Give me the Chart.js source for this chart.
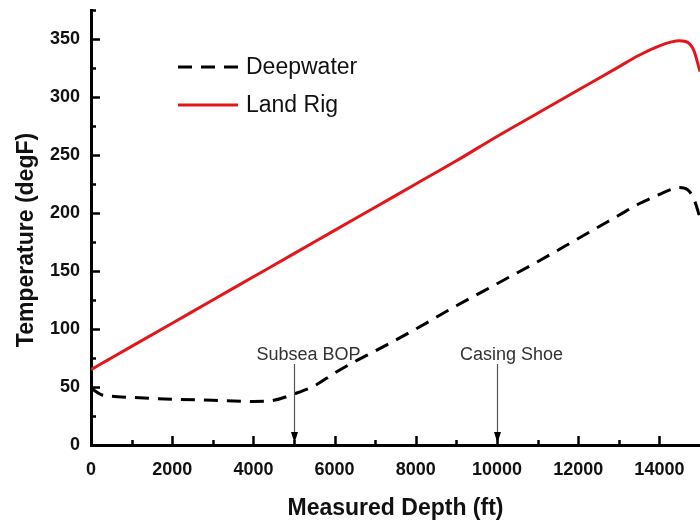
<!DOCTYPE html>
<html>
<head>
<meta charset="utf-8">
<script src="https://cdn.jsdelivr.net/npm/chart.js@4.4.0/dist/chart.umd.min.js"></script>
<style>
  html, body { margin: 0; padding: 0; background: #fff; }
</style>
</head>
<body>
<canvas id="tempChart" width="700" height="527"></canvas>
<script>
// measured depth (ft) and circulating temperature (degF)
const depthFt = [0, 250, 500, 1000, 2000, 3000, 4000, 4500, 5000, 5500, 6000, 6500, 7000,
  8000, 9000, 10000, 11000, 12000, 13000, 13500, 14000, 14300, 14500, 14700, 14850, 15000];
const deepwaterTemp = [49, 43.5, 42, 41, 39.5, 38.5, 37.5, 38.5, 44, 51, 62, 72, 81,
  100, 120, 139, 158, 178, 198, 208, 216, 220.5, 222, 220, 212, 196];
const landRigTemp = [65, 70, 75, 85, 105, 125, 145, 155, 165, 175, 185, 195, 205,
  225, 245, 266, 286, 306, 326, 336, 344, 347.5, 348.5, 347, 340, 322];

const xTicks = [0, 2000, 4000, 6000, 8000, 10000, 12000, 14000];
const yTicks = [0, 50, 100, 150, 200, 250, 300, 350];

const markerLabels = ['Subsea BOP', 'Casing Shoe'];
const markerDepths = [5000, 10000];

const FONT = "'Liberation Sans', Arial, Helvetica, sans-serif";

function toPoints(ys) {
  return depthFt.map((d, i) => ({ x: d, y: ys[i] }));
}

// inward tick marks, legend, depth markers and the y title
const decorations = {
  id: 'decorations',
  afterDatasetsDraw(chart) {
    const { ctx, chartArea, scales: { x, y } } = chart;
    ctx.save();

    ctx.strokeStyle = '#000';
    ctx.lineWidth = 2.5;
    ctx.beginPath();
    for (let v = 25; v <= 375; v += 25) {
      const py = Math.round(y.getPixelForValue(v)) + 0.5;
      const len = v % 50 === 0 ? 9 : 5;
      ctx.moveTo(chartArea.left, py);
      ctx.lineTo(chartArea.left + len, py);
    }
    for (let v = 1000; v < 15000; v += 1000) {
      const px = Math.round(x.getPixelForValue(v)) + 0.5;
      const len = v % 2000 === 0 ? 9 : 5;
      ctx.moveTo(px, chartArea.bottom);
      ctx.lineTo(px, chartArea.bottom - len);
    }
    ctx.stroke();

    // legend
    ctx.font = '23px ' + FONT;
    ctx.textBaseline = 'middle';
    ctx.textAlign = 'left';
    chart.data.datasets.forEach((ds, i) => {
      const ly = 67 + i * 38;
      ctx.strokeStyle = ds.borderColor;
      ctx.lineWidth = ds.borderWidth;
      ctx.setLineDash(ds.borderDash || []);
      ctx.beginPath();
      ctx.moveTo(178, ly);
      ctx.lineTo(238, ly);
      ctx.stroke();
      ctx.setLineDash([]);
      ctx.fillStyle = '#111';
      ctx.fillText(ds.label, 246, ly + 1);
    });

    // depth markers
    ctx.font = '18px ' + FONT;
    ctx.textAlign = 'center';
    ctx.textBaseline = 'alphabetic';
    markerLabels.forEach((label, i) => {
      const px = Math.round(x.getPixelForValue(markerDepths[i])) + 0.5;
      const tip = chartArea.bottom - 2;
      ctx.fillStyle = '#333';
      ctx.fillText(label, px + 14, 360);
      ctx.strokeStyle = '#555';
      ctx.lineWidth = 1.2;
      ctx.beginPath();
      ctx.moveTo(px, 364);
      ctx.lineTo(px, tip - 8);
      ctx.stroke();
      ctx.fillStyle = '#000';
      ctx.beginPath();
      ctx.moveTo(px, tip);
      ctx.lineTo(px - 3.5, tip - 11);
      ctx.lineTo(px + 3.5, tip - 11);
      ctx.closePath();
      ctx.fill();
    });

    // y axis title
    ctx.translate(27, 240);
    ctx.rotate(-Math.PI / 2);
    ctx.font = 'bold 23px ' + FONT;
    ctx.textAlign = 'center';
    ctx.textBaseline = 'middle';
    ctx.fillStyle = '#111';
    ctx.fillText('Temperature (degF)', 0, 0);

    ctx.restore();
  }
};

const ctx = document.getElementById('tempChart');
const tempChart = new Chart(ctx, {
  type: 'line',
  data: {
    datasets: [
      {
        label: 'Deepwater',
        data: toPoints(deepwaterTemp),
        borderColor: '#000000',
        borderWidth: 3,
        borderDash: [14, 9],
        pointRadius: 0,
        cubicInterpolationMode: 'monotone',
        fill: false
      },
      {
        label: 'Land Rig',
        data: toPoints(landRigTemp),
        borderColor: '#e3161b',
        borderWidth: 3,
        pointRadius: 0,
        cubicInterpolationMode: 'monotone',
        fill: false
      }
    ]
  },
  options: {
    responsive: false,
    animation: false,
    devicePixelRatio: 1,
    layout: { padding: { top: 10, right: 0, left: 0, bottom: 0 } },
    plugins: {
      legend: { display: false },
      tooltip: { enabled: false }
    },
    scales: {
      x: {
        type: 'linear',
        min: 0,
        max: 15000,
        afterBuildTicks: s => { s.ticks = xTicks.map(v => ({ value: v })); },
        afterFit: s => { s.height = 82; s.paddingLeft = 0; s.paddingRight = 0; },
        grid: { display: false, drawTicks: false },
        border: { display: true, color: '#000', width: 3 },
        ticks: {
          color: '#111',
          padding: 14,
          maxRotation: 0,
          callback: v => String(v),
          font: { family: FONT, size: 18, weight: 'bold' }
        },
        title: {
          display: true,
          text: 'Measured Depth (ft)',
          color: '#111',
          font: { family: FONT, size: 23, weight: 'bold' },
          padding: { top: 0, bottom: 5 }
        }
      },
      y: {
        min: 0,
        max: 375,
        afterBuildTicks: s => { s.ticks = yTicks.map(v => ({ value: v })); },
        afterFit: s => { s.width = 91; s.paddingTop = 0; s.paddingBottom = 0; },
        grid: { display: false, drawTicks: false },
        border: { display: true, color: '#000', width: 3 },
        ticks: {
          color: '#111',
          padding: 11,
          callback: v => String(v),
          font: { family: FONT, size: 18, weight: 'bold' }
        }
      }
    }
  },
  plugins: [decorations]
});
</script>
</body>
</html>
